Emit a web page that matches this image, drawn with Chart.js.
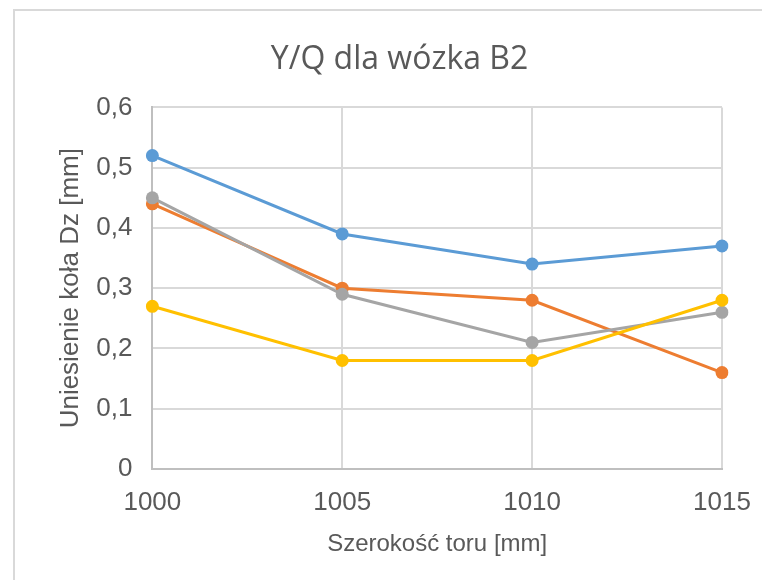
<!DOCTYPE html>
<html>
<head>
    <meta charset="utf-8">
    <title>Y/Q dla wózka B2</title>
    <script src="https://cdn.jsdelivr.net/npm/chart.js"></script>
    <style>
        body { margin: 0; background: #fff; }
        #wrap { width: 762px; height: 580px; }
    </style>
</head>
<body>
    <div id="wrap">
        <canvas id="yqChart" width="762" height="580"></canvas>
    </div>

    <script>
        // chart data
        const trackWidths = ['1000', '1005', '1010', '1015'];
        const seriesBlue = [0.52, 0.39, 0.34, 0.37];
        const seriesOrange = [0.44, 0.30, 0.28, 0.16];
        const seriesGray = [0.45, 0.29, 0.21, 0.26];
        const seriesYellow = [0.27, 0.18, 0.18, 0.28];
        const yTicks = [0, 0.1, 0.2, 0.3, 0.4, 0.5, 0.6];

        const textColor = '#595959';
        const fontFamily = "'Liberation Sans', Arial, sans-serif";

        // outer frame of the chart object
        const framePlugin = {
            id: 'frame',
            beforeDraw(chart) {
                const ctx = chart.ctx;
                ctx.save();
                ctx.fillStyle = '#fff';
                ctx.fillRect(0, 0, chart.width, chart.height);
                ctx.strokeStyle = '#d9d9d9';
                ctx.lineWidth = 2;
                ctx.strokeRect(14, 10, 900, 700);
                ctx.restore();
            }
        };

        function makeSet(label, data, color, order) {
            return {
                label: label,
                data: data,
                borderColor: color,
                backgroundColor: color,
                borderWidth: 3,
                pointRadius: 6.5,
                pointHoverRadius: 6.5,
                pointBorderWidth: 0,
                tension: 0,
                order: order
            };
        }

        new Chart(document.getElementById('yqChart'), {
            type: 'line',
            data: {
                labels: trackWidths,
                datasets: [
                    makeSet('Seria 1', seriesBlue, '#5B9BD5', 4),
                    makeSet('Seria 2', seriesOrange, '#ED7D31', 3),
                    makeSet('Seria 3', seriesGray, '#A5A5A5', 2),
                    makeSet('Seria 4', seriesYellow, '#FFC000', 1)
                ]
            },
            options: {
                responsive: false,
                animation: false,
                layout: { padding: { left: 66, right: 29, top: 0, bottom: 21 } },
                plugins: {
                    legend: { display: false },
                    tooltip: { enabled: false },
                    title: {
                        display: true,
                        text: 'Y/Q dla wózka B2',
                        color: textColor,
                        font: { family: "'Open Sans', sans-serif", size: 32, weight: 'normal' },
                        padding: { top: 41, bottom: 28 }
                    }
                },
                scales: {
                    x: {
                        offset: false,
                        afterFit(scale) {
                            // last tick label may hang past the plot edge, as in the original
                            scale.paddingRight = 40;
                        },
                        grid: { color: '#d9d9d9', lineWidth: 2, drawTicks: false },
                        border: { color: '#bfbfbf', width: 2 },
                        ticks: {
                            color: textColor,
                            font: { family: fontFamily, size: 26 },
                            padding: 18,
                            maxRotation: 0
                        },
                        title: {
                            display: true,
                            text: 'Szerokość toru [mm]',
                            color: textColor,
                            font: { family: fontFamily, size: 24 },
                            padding: { top: -6, bottom: 0 }
                        }
                    },
                    y: {
                        min: 0,
                        max: 0.6,
                        afterBuildTicks(axis) {
                            axis.ticks = yTicks.map(v => ({ value: v }));
                        },
                        grid: { color: '#d9d9d9', lineWidth: 2, drawTicks: false },
                        border: { color: '#bfbfbf', width: 2 },
                        ticks: {
                            color: textColor,
                            font: { family: fontFamily, size: 26 },
                            padding: 20,
                            callback: v => v === 0 ? '0' : v.toFixed(1).replace('.', ',')
                        },
                        title: {
                            display: true,
                            text: 'Uniesienie koła Dz [mm]',
                            color: textColor,
                            font: { family: fontFamily, size: 26 },
                            padding: { top: -11, bottom: -10 }
                        }
                    }
                }
            },
            plugins: [framePlugin]
        });
    </script>
</body>
</html>
